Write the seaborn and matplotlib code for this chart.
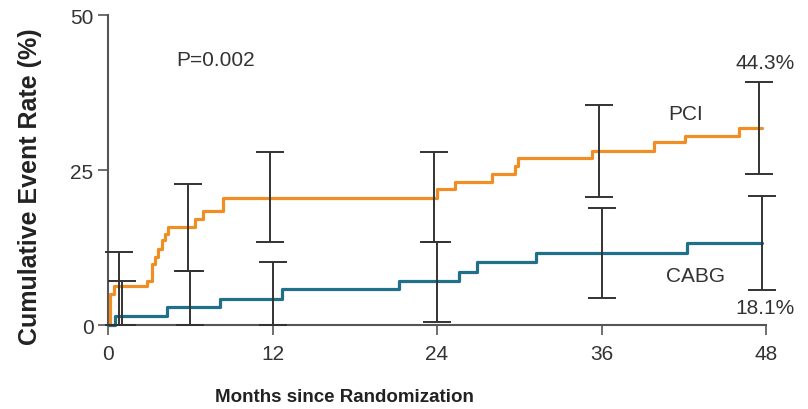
import numpy as np
import pandas as pd
import seaborn as sns
from matplotlib import pyplot as plt

# Kaplan-Meier style step curves
months_pci = [0, 0.15, 0.44, 2.82, 3.18, 3.43, 3.67, 3.91, 4.16, 4.4, 6.35, 6.95, 8.4,
              24.0, 25.3, 28.0, 29.7, 29.9, 35.3, 39.8, 42.1, 46.0, 47.7]
rate_pci = [0, 5.1, 6.3, 7.2, 9.9, 11.0, 12.3, 13.7, 14.7, 15.8, 17.1, 18.4, 20.6,
            22.0, 23.1, 24.4, 25.7, 27.0, 28.1, 29.5, 30.5, 31.8, 31.8]

months_cabg = [0, 0.51, 4.28, 8.2, 12.7, 21.2, 25.6, 26.9, 31.2, 42.2, 47.7]
rate_cabg = [0, 1.6, 2.9, 4.3, 5.8, 7.2, 8.6, 10.2, 11.7, 13.3, 13.3]

# confidence intervals
ci_months = [1, 6, 12, 24, 36, 47.7]
pci_lo = [0, 8.8, 13.4, 13.4, 20.7, 24.4]
pci_hi = [11.9, 22.8, 27.9, 28.0, 35.5, 39.2]
cabg_lo = [0, 0, 0, 0.6, 4.4, 5.7]
cabg_hi = [7.2, 8.7, 10.2, 13.4, 18.9, 20.9]

x_ticks = [0, 12, 24, 36, 48]
y_ticks = [0, 25, 50]

colors = {'PCI': '#EF8E25', 'CABG': '#21708A'}

sns.set_style('ticks')
plt.rcParams['font.family'] = ['Liberation Sans', 'DejaVu Sans']

df = pd.concat([
    pd.DataFrame({'month': months_pci, 'rate': rate_pci, 'group': 'PCI'}),
    pd.DataFrame({'month': months_cabg, 'rate': rate_cabg, 'group': 'CABG'}),
])

fig = plt.figure(figsize=(8.08, 4.10), dpi=100)
ax = fig.add_axes([0.1337, 0.2037, 0.8144, 0.757])

sns.lineplot(data=df, x='month', y='rate', hue='group', palette=colors,
             drawstyle='steps-post', estimator=None, linewidth=2.3,
             legend=False, ax=ax, clip_on=False, zorder=3)

bar_color = '#333333'
for lo, hi, shift in [(pci_lo, pci_hi, -0.2), (cabg_lo, cabg_hi, 0.0)]:
    lo = np.array(lo)
    hi = np.array(hi)
    ax.errorbar(np.array(ci_months) + shift, (lo + hi) / 2, yerr=(hi - lo) / 2,
                fmt='none', ecolor=bar_color, elinewidth=1.4, capsize=10,
                capthick=1.4, clip_on=False, zorder=4)

ax.set_xlim(0, 48)
ax.set_ylim(0, 50)
ax.set_xticks(x_ticks)
ax.set_yticks(y_ticks)
sns.despine(ax=ax)
for side in ['left', 'bottom']:
    ax.spines[side].set_color('#555555')
    ax.spines[side].set_linewidth(1.5)
ax.tick_params(axis='both', colors='#555555', width=1.2, length=7,
               labelsize=15, labelcolor='#333333')
ax.tick_params(axis='x', pad=6)

ax.set_xlabel('Months since Randomization', fontsize=13.5, fontweight='bold', color='#222222')
ax.set_ylabel('Cumulative Event Rate (%)', fontsize=18, fontweight='bold', color='#222222')
ax.xaxis.set_label_coords(0.36, -0.2)
ax.yaxis.set_label_coords(-0.10, 0.45)

txt = dict(fontsize=15, color='#333333', va='center')
ax.text(5.0, 42.8, 'P=0.002', ha='left', **txt)
ax.text(42.1, 34.1, 'PCI', ha='center', **txt)
ax.text(42.85, 8.05, 'CABG', ha='center', **txt)
ax.text(47.9, 42.3, '44.3%', ha='center', **txt)
ax.text(47.9, 2.9, '18.1%', ha='center', **txt)

fig.savefig('out.png', dpi=100)
